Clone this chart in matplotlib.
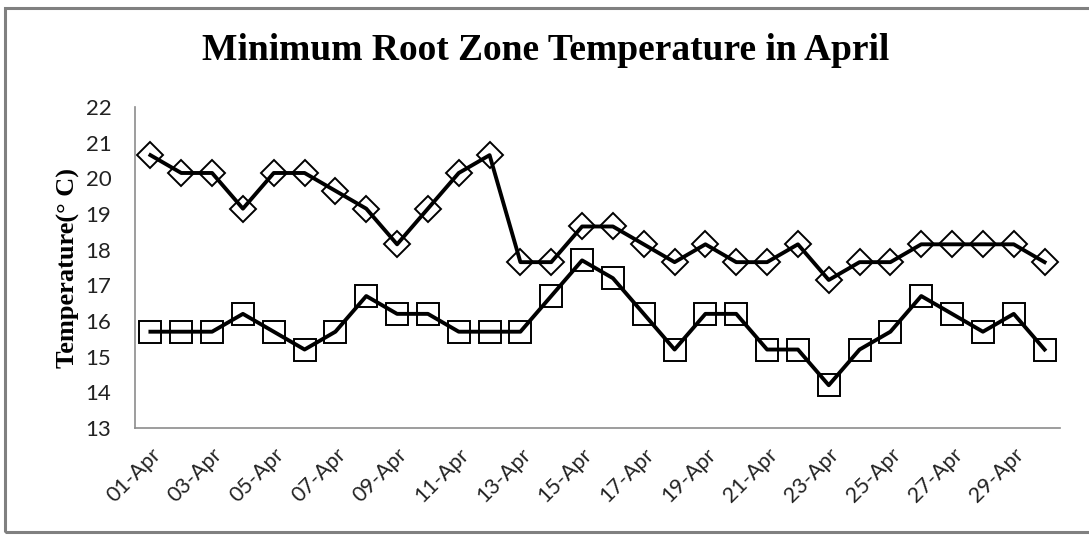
import matplotlib
matplotlib.use("Agg")
import matplotlib.pyplot as plt
from matplotlib.patches import Rectangle

days = [f"{d:02d}-Apr" for d in range(1, 31)]
series_diamond = [20.65, 20.15, 20.15, 19.15, 20.15, 20.15, 19.65, 19.15, 18.15, 19.15,
                  20.15, 20.65, 17.65, 17.65, 18.65, 18.65, 18.15, 17.65, 18.15, 17.65,
                  17.65, 18.15, 17.15, 17.65, 17.65, 18.15, 18.15, 18.15, 18.15, 17.65]
series_square = [15.7, 15.7, 15.7, 16.2, 15.7, 15.2, 15.7, 16.7, 16.2, 16.2,
                 15.7, 15.7, 15.7, 16.7, 17.7, 17.2, 16.2, 15.2, 16.2, 16.2,
                 15.2, 15.2, 14.2, 15.2, 15.7, 16.7, 16.2, 15.7, 16.2, 15.2]
y_ticks = list(range(13, 23))

W, H = 1089, 535
fig = plt.figure(figsize=(W / 100, H / 100), dpi=100)
fig.patch.set_facecolor("white")

# chart frame
fig.patches.append(Rectangle((5 / W, 3 / H), 1.2, 1 - 11 / H, transform=fig.transFigure,
                             fill=False, edgecolor="#808080", linewidth=2.2))

ax = fig.add_axes([135 / W, 1 - 428 / H, 925 / W, 321 / H])
x = list(range(len(days)))

ax.plot(x, series_diamond, color="black", linewidth=2.8, marker="D", markersize=13,
        markerfacecolor="none", markeredgecolor="black", markeredgewidth=1.4)
ax.plot(x, series_square, color="black", linewidth=2.8, marker="s", markersize=16,
        markerfacecolor="none", markeredgecolor="black", markeredgewidth=1.4)

ax.set_xlim(-0.5, len(days) - 0.5)
ax.set_ylim(13, 22)
ax.set_yticks(y_ticks)
ax.set_yticklabels([str(v) for v in y_ticks], fontfamily="Lato", fontsize=16, color="#222222")
ax.set_xticks(x[::2])
ax.set_xticklabels(days[::2], rotation=45, ha="right", rotation_mode="anchor",
                   fontfamily="Lato", fontsize=15.5, color="#222222")
ax.tick_params(axis="y", length=0, pad=17)
ax.tick_params(axis="x", length=0, pad=12)

for side in ("top", "right"):
    ax.spines[side].set_visible(False)
for side in ("left", "bottom"):
    ax.spines[side].set_color("#8c8c8c")
    ax.spines[side].set_linewidth(1.2)

ax.set_ylabel("Temperature(° C)", fontfamily="Liberation Serif", fontweight="bold",
              fontsize=19, labelpad=4)
fig.text(546 / W, 1 - 50 / H, "Minimum Root Zone Temperature in April",
         fontfamily="Liberation Serif", fontweight="bold", fontsize=27,
         ha="center", va="center")

fig.savefig("out.png", dpi=100, facecolor="white")
